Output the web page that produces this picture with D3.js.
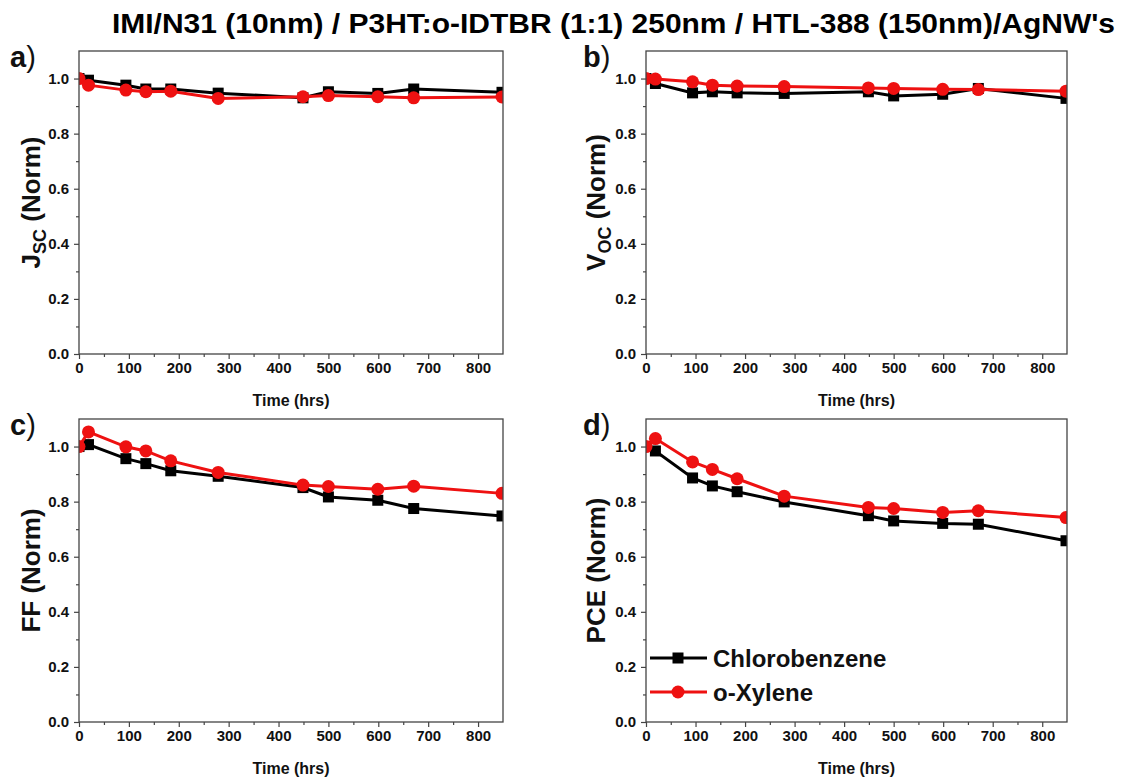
<!DOCTYPE html>
<html>
<head>
<meta charset="utf-8">
<script src="https://cdn.jsdelivr.net/npm/d3@7"></script>
<style>
  body { margin: 0; background: #fff; }
  svg { font-family: "Liberation Sans", Arial, sans-serif; }
</style>
</head>
<body>
<svg id="chart"></svg>
<script>
// Time points (hrs)
const times = [0, 19, 94, 134, 184, 279, 449, 500, 599, 671, 848];

// Normalised values, Chlorobenzene (black) and o-Xylene (red)
const jscCB = [1.0, 0.994, 0.976, 0.962, 0.962, 0.947, 0.930, 0.952, 0.946, 0.962, 0.950];
const jscOX = [1.0, 0.976, 0.958, 0.952, 0.954, 0.928, 0.934, 0.938, 0.934, 0.930, 0.933];
const vocCB = [1.0, 0.982, 0.948, 0.952, 0.948, 0.946, 0.952, 0.937, 0.943, 0.964, 0.928];
const vocOX = [1.0, 0.998, 0.988, 0.976, 0.973, 0.971, 0.966, 0.964, 0.961, 0.960, 0.954];
const ffCB = [1.0, 1.007, 0.956, 0.938, 0.912, 0.892, 0.851, 0.817, 0.805, 0.775, 0.748];
const ffOX = [1.0, 1.053, 0.999, 0.984, 0.948, 0.906, 0.860, 0.855, 0.845, 0.856, 0.830];
const pceCB = [1.0, 0.984, 0.886, 0.857, 0.836, 0.799, 0.749, 0.730, 0.721, 0.718, 0.658];
const pceOX = [1.0, 1.029, 0.944, 0.917, 0.883, 0.820, 0.779, 0.775, 0.761, 0.767, 0.742];

const seriesNames = ["Chlorobenzene", "o-Xylene"];
const seriesColors = ["#000000", "#ee1111"];
const xTicks = [0, 100, 200, 300, 400, 500, 600, 700, 800];
const yTicks = [0.0, 0.2, 0.4, 0.6, 0.8, 1.0];

const width = 1124;
const height = 782;

const svg = d3.select("#chart")
    .attr("width", width)
    .attr("height", height);

// Title
svg.append("text")
    .attr("x", 112)
    .attr("y", 33)
    .attr("font-size", 27)
    .attr("font-weight", "bold")
    .attr("textLength", 1003)
    .attr("lengthAdjust", "spacingAndGlyphs")
    .text("IMI/N31 (10nm) / P3HT:o-IDTBR (1:1) 250nm / HTL-388 (150nm)/AgNW's");

const panels = [
    { tag: "a", left: 79, top: 51, w: 424, h: 303, ylab: ["J", "SC"], data: [jscCB, jscOX], labX: 31, tagX: 10 },
    { tag: "b", left: 646, top: 51, w: 421, h: 303, ylab: ["V", "OC"], data: [vocCB, vocOX], labX: 596, tagX: 583 },
    { tag: "c", left: 79, top: 419, w: 424, h: 303, ylab: ["FF", ""], data: [ffCB, ffOX], labX: 31, tagX: 10 },
    { tag: "d", left: 646, top: 419, w: 421, h: 303, ylab: ["PCE", ""], data: [pceCB, pceOX], labX: 596, tagX: 583, legend: true }
];

panels.forEach((p, pi) => {
    const x = d3.scaleLinear().domain([0, 850]).range([p.left, p.left + p.w]);
    const y = d3.scaleLinear().domain([0, 1.1]).range([p.top + p.h, p.top]);

    // minor ticks
    const xMinor = d3.axisBottom(x).tickValues(d3.range(50, 850, 100)).tickSize(3).tickFormat("");
    svg.append("g")
        .attr("transform", `translate(0, ${p.top + p.h})`)
        .call(xMinor)
        .call(g => g.select(".domain").remove())
        .call(g => g.selectAll("line").attr("stroke", "#444").attr("stroke-width", 1.2));
    const yMinor = d3.axisLeft(y).tickValues([0.1, 0.3, 0.5, 0.7, 0.9]).tickSize(3).tickFormat("");
    svg.append("g")
        .attr("transform", `translate(${p.left}, 0)`)
        .call(yMinor)
        .call(g => g.select(".domain").remove())
        .call(g => g.selectAll("line").attr("stroke", "#444").attr("stroke-width", 1.2));

    // major axes
    svg.append("g")
        .attr("transform", `translate(0, ${p.top + p.h})`)
        .call(d3.axisBottom(x).tickValues(xTicks).tickSize(5).tickPadding(3).tickFormat(d3.format("d")))
        .call(g => g.select(".domain").remove())
        .call(g => g.selectAll("line").attr("stroke", "#444").attr("stroke-width", 1.2))
        .call(g => g.selectAll("text").attr("font-size", 15).attr("font-weight", "bold")
            .attr("fill", "#111").attr("font-family", "Liberation Sans, Arial, sans-serif"));
    svg.append("g")
        .attr("transform", `translate(${p.left}, 0)`)
        .call(d3.axisLeft(y).tickValues(yTicks).tickSize(5).tickPadding(5).tickFormat(d3.format(".1f")))
        .call(g => g.select(".domain").remove())
        .call(g => g.selectAll("line").attr("stroke", "#444").attr("stroke-width", 1.2))
        .call(g => g.selectAll("text").attr("font-size", 15).attr("font-weight", "bold")
            .attr("fill", "#111").attr("font-family", "Liberation Sans, Arial, sans-serif"));

    // clip for data
    const clipId = "clip" + pi;
    svg.append("clipPath").attr("id", clipId)
        .append("rect")
        .attr("x", p.left).attr("y", p.top).attr("width", p.w).attr("height", p.h);

    const plot = svg.append("g").attr("clip-path", `url(#${clipId})`);
    const line = d3.line().x((d, i) => x(times[i])).y(d => y(d));

    p.data.forEach((vals, si) => {
        plot.append("path")
            .datum(vals)
            .attr("fill", "none")
            .attr("stroke", seriesColors[si])
            .attr("stroke-width", 3)
            .attr("d", line);
        if (si === 0) {
            plot.selectAll(".sq" + pi)
                .data(vals)
                .enter()
                .append("rect")
                .attr("x", (d, i) => x(times[i]) - 5.5)
                .attr("y", d => y(d) - 5.5)
                .attr("width", 11)
                .attr("height", 11)
                .attr("fill", seriesColors[si]);
        } else {
            plot.selectAll(".ci" + pi)
                .data(vals)
                .enter()
                .append("circle")
                .attr("cx", (d, i) => x(times[i]))
                .attr("cy", d => y(d))
                .attr("r", 6.5)
                .attr("fill", seriesColors[si]);
        }
    });

    // frame
    svg.append("rect")
        .attr("x", p.left).attr("y", p.top)
        .attr("width", p.w).attr("height", p.h)
        .attr("fill", "none")
        .attr("stroke", "#444")
        .attr("stroke-width", 1.3);

    // x label
    svg.append("text")
        .attr("x", p.left + p.w / 2)
        .attr("y", p.top + p.h + 52)
        .attr("text-anchor", "middle")
        .attr("font-size", 16)
        .attr("font-weight", "bold")
        .attr("fill", "#111")
        .text("Time (hrs)");

    // y label
    const yl = svg.append("text")
        .attr("transform", `translate(${p.labX}, ${p.top + p.h / 2}) rotate(-90)`)
        .attr("text-anchor", "middle")
        .attr("dy", "0.35em")
        .attr("font-size", 26)
        .attr("font-weight", "bold")
        .attr("fill", "#111");
    yl.append("tspan").text(p.ylab[0]);
    if (p.ylab[1]) {
        yl.append("tspan").attr("font-size", 18).attr("dy", 6).text(p.ylab[1]);
        yl.append("tspan").attr("dy", -6).text(" (Norm)");
    } else {
        yl.append("tspan").text(" (Norm)");
    }

    // panel tag
    const tag = svg.append("text")
        .attr("x", p.tagX)
        .attr("y", p.top + 16)
        .attr("font-size", 29)
        .attr("fill", "#111");
    tag.append("tspan").attr("font-weight", "bold").text(p.tag);
    tag.append("tspan").attr("font-weight", "normal").text(")");

    // legend
    if (p.legend) {
        seriesNames.forEach((name, si) => {
            const ly = 658 + si * 34;
            svg.append("line")
                .attr("x1", 650).attr("x2", 707)
                .attr("y1", ly).attr("y2", ly)
                .attr("stroke", seriesColors[si])
                .attr("stroke-width", 3);
            if (si === 0) {
                svg.append("rect")
                    .attr("x", 672.5).attr("y", ly - 5.5)
                    .attr("width", 11).attr("height", 11)
                    .attr("fill", seriesColors[si]);
            } else {
                svg.append("circle")
                    .attr("cx", 678).attr("cy", ly).attr("r", 6.5)
                    .attr("fill", seriesColors[si]);
            }
            svg.append("text")
                .attr("x", 713)
                .attr("y", ly + 9)
                .attr("font-size", 24)
                .attr("font-weight", "bold")
                .attr("fill", "#111")
                .text(name);
        });
    }
});
</script>
</body>
</html>
